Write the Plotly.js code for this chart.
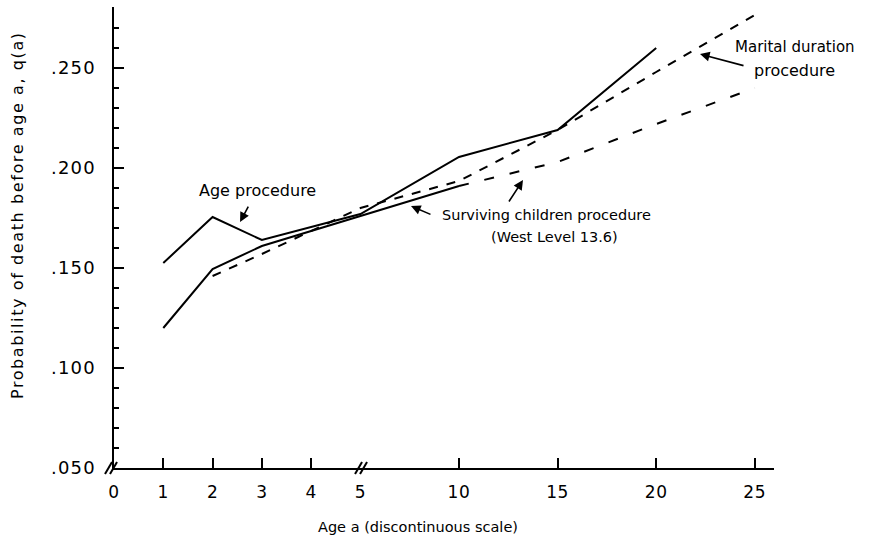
<!DOCTYPE html>
<html><head><meta charset="utf-8">
<script src="https://cdn.plot.ly/plotly-3.0.1.min.js"></script>
<style>
html,body{margin:0;padding:0;background:#fff}
#chart g.ytick text{letter-spacing:1.2px}
#chart g.xtick text{letter-spacing:0.6px}
#chart .ytitlelab text{letter-spacing:1.6px}
</style>
</head><body><div id="chart" style="width:873px;height:540px"></div>
<script>
// Axis ticks (discontinuous age scale)
const tickAges = [0, 1, 2, 3, 4, 5, 10, 15, 20, 25];
const tickLabels = ['0', '1', '2', '3', '4', '5', '10', '15', '20', '25'];
const markedAges = [1, 2, 3, 4, 10, 15, 20, 25];
const yTickVals = [0.05, 0.10, 0.15, 0.20, 0.25];
const yTickLabels = ['.050', '.100', '.150', '.200', '.250'];

// Series
const ageProcAges = [1, 2, 3, 5, 10, 15, 20];
const ageProcQ = [0.1525, 0.1755, 0.164, 0.177, 0.2055, 0.219, 0.260];
const survAges = [1, 2, 3, 5, 10];
const survQ = [0.120, 0.1495, 0.161, 0.176, 0.191];
const maritalAges = [2, 3, 5, 10, 15, 20, 25];
const maritalQ = [0.146, 0.157, 0.180, 0.1935, 0.219, 0.248, 0.2765];
const westAges = [10, 15, 20, 25];
const westQ = [0.191, 0.203, 0.222, 0.240];

// discontinuous scale: ages 0-5 unit spacing, beyond 5 compressed
function pos(a) { return a <= 5 ? a : 5 + (a - 5) * 0.4; }

const FONT = 'DejaVu Sans';
const lineStyle = (dash) => ({ color: '#000', width: 2, dash: dash });

const traces = [
  { x: ageProcAges.map(pos), y: ageProcQ, mode: 'lines', line: lineStyle('solid'), showlegend: false, hoverinfo: 'skip' },
  { x: survAges.map(pos), y: survQ, mode: 'lines', line: lineStyle('solid'), showlegend: false, hoverinfo: 'skip' },
  { x: maritalAges.map(pos), y: maritalQ, mode: 'lines', line: lineStyle('9px,9px'), showlegend: false, hoverinfo: 'skip' },
  { x: westAges.map(pos), y: westQ, mode: 'lines', line: lineStyle('10px,16px'), showlegend: false, hoverinfo: 'skip' }
];

function brk(xp) {
  return [-4, 1].map(off => ({
    type: 'line', xref: 'paper', yref: 'paper', xsizemode: 'pixel', ysizemode: 'pixel',
    xanchor: xp, yanchor: 0, x0: off - 3, x1: off + 4, y0: -6, y1: 6,
    line: { color: '#000', width: 2 }
  }));
}

function arrow(x, y, ax, ay) {
  return { xref: 'paper', yref: 'paper', x: x, y: y, ax: ax, ay: ay, text: '', showarrow: true,
    arrowhead: 2, arrowsize: 1.2, arrowwidth: 1.6, arrowcolor: '#000' };
}
function label(x, y, t, size, anchor) {
  return { xref: 'paper', yref: 'paper', x: x, y: y, text: t, showarrow: false,
    xanchor: anchor || 'left', yanchor: 'middle', font: { family: FONT, size: size, color: '#000' } };
}

const layout = {
  width: 873, height: 540,
  margin: { l: 114, r: 99, t: 7, b: 72 },
  paper_bgcolor: '#fff', plot_bgcolor: '#fff',
  font: { family: FONT, color: '#000' },
  xaxis: {
    range: [0, 13.39], showgrid: false, zeroline: false,
    showline: true, linecolor: '#000', linewidth: 2,
    tickmode: 'array', tickvals: tickAges.map(pos), ticktext: tickLabels,
    ticks: '', ticklabelstandoff: 8,
    tickfont: { family: FONT, size: 17, color: '#000' },
    minor: { tickmode: 'array', tickvals: markedAges.map(pos), ticks: 'inside', ticklen: 10, tickwidth: 2, tickcolor: '#000', showgrid: false }
  },
  yaxis: {
    range: [0.05, 0.2805], showgrid: false, zeroline: false,
    showline: true, linecolor: '#000', linewidth: 2.5,
    tickmode: 'array', tickvals: yTickVals, ticktext: yTickLabels,
    ticks: 'inside', ticklen: 10, tickwidth: 2, tickcolor: '#000', ticklabelstandoff: 12,
    tickfont: { family: FONT, size: 18, color: '#000' },
    minor: { dtick: 0.01, tick0: 0.05, ticks: 'inside', ticklen: 5, tickwidth: 1.5, tickcolor: '#000', showgrid: false }
  },
  shapes: [].concat(brk(-0.003), brk(0.3758)),
  annotations: [
    Object.assign(label(-0.1455, 0.549, 'Probability of death before age a, q(a)', 16, 'center'), { textangle: -90, xanchor: 'center', captureevents: false, name: 'ytitle' }),
    label(0.4606, -0.128, 'Age a (discontinuous scale)', 14.5, 'center'),
    label(0.1258, 0.603, 'Age procedure', 16),
    arrow(0.191, 0.5336, 9, -17),
    label(0.494, 0.5488, 'Surviving children procedure', 14.5),
    label(0.568, 0.501, '(West Level 13.6)', 14.5),
    arrow(0.45, 0.5683, 21, 9),
    arrow(0.6197, 0.6247, -15, 23),
    label(0.938, 0.913, 'Marital duration', 15),
    label(0.966, 0.863, 'procedure', 16),
    arrow(0.8879, 0.898, 45, 12)
  ]
};

Plotly.newPlot('chart', traces, layout, { displayModeBar: false, staticPlot: true }).then(() => {
  // widen the rotated y-title letters like the original lettering
  const anns = document.querySelectorAll('#chart .annotation');
  if (anns.length) anns[0].classList.add('ytitlelab');
});
</script></body></html>
